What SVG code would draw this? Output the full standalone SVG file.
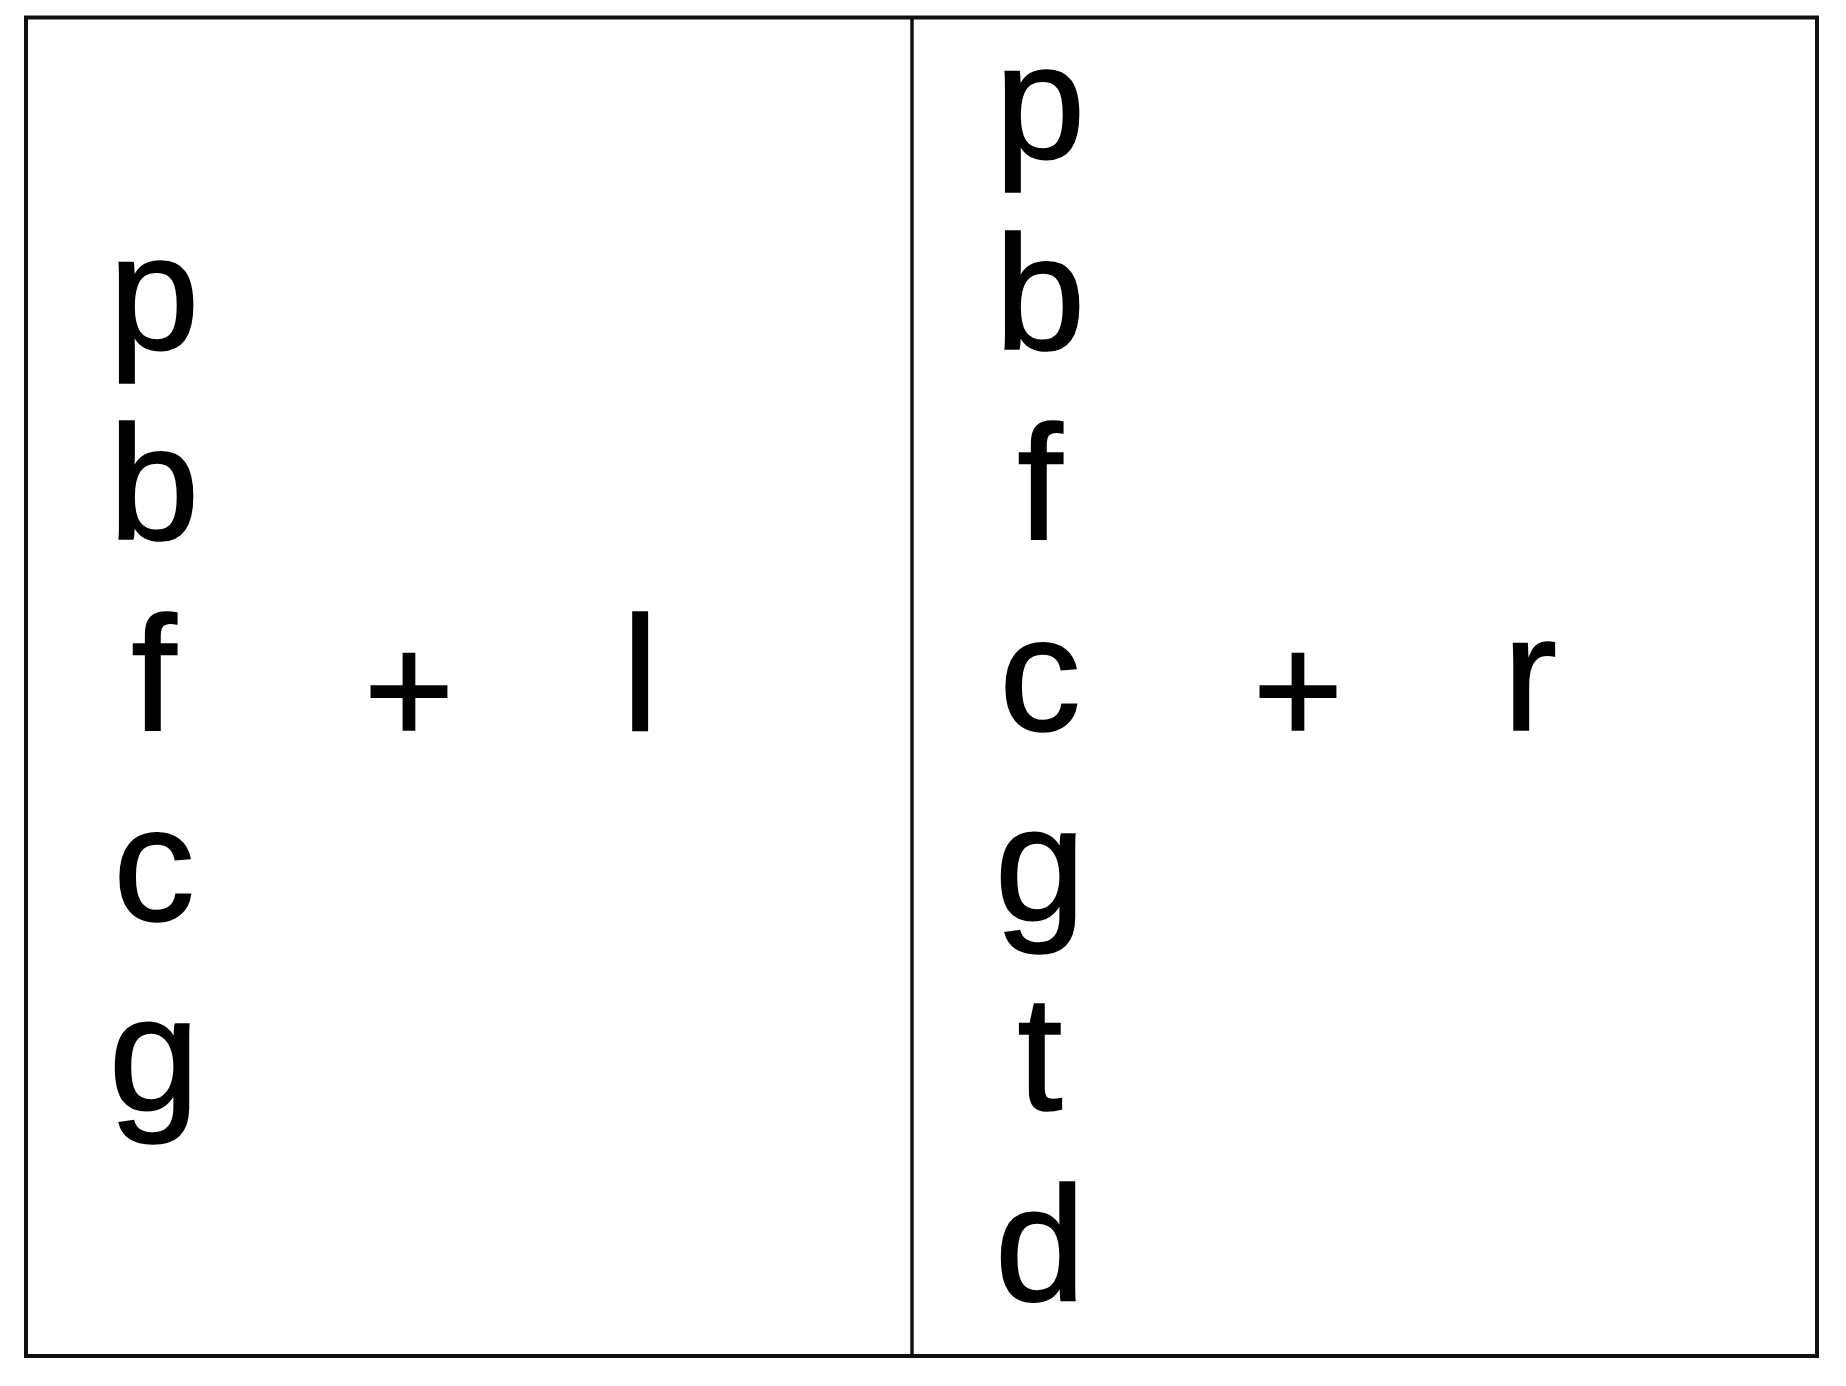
<svg xmlns="http://www.w3.org/2000/svg" width="1846" height="1386" viewBox="0 0 1846 1386">
<style>
.t{font-family:"Liberation Sans",Arial,sans-serif;font-size:163px;fill:#000;stroke:#000;stroke-width:1.6;text-anchor:middle}
.pl{font-size:155px}
.frame{fill:none;stroke:#111;stroke-width:4}
.div{stroke:#111;stroke-width:3.5}
</style>
<rect width="1846" height="1386" fill="#fff"/>
<g id="frame">
<rect class="frame" x="26" y="17.5" width="1791" height="1338.5"/>
<line class="div" x1="912" y1="17.5" x2="912" y2="1356"/>
</g>
<g id="left">
<text class="t" x="154" y="349">p</text>
<text class="t" x="154" y="539">b</text>
<text class="t" x="154" y="730">f</text>
<text class="t pl" x="409" y="744">+</text>
<text class="t" x="640" y="730">l</text>
<text class="t" x="154" y="920">c</text>
<text class="t" x="154" y="1110">g</text>
</g>
<g id="right">
<text class="t" x="1040" y="158">p</text>
<text class="t" x="1040" y="349">b</text>
<text class="t" x="1040" y="539">f</text>
<text class="t" x="1040" y="730">c</text>
<text class="t pl" x="1298" y="744">+</text>
<text class="t" x="1530" y="730">r</text>
<text class="t" x="1040" y="920">g</text>
<text class="t" x="1040" y="1110">t</text>
<text class="t" x="1040" y="1300">d</text>
</g>
</svg>
